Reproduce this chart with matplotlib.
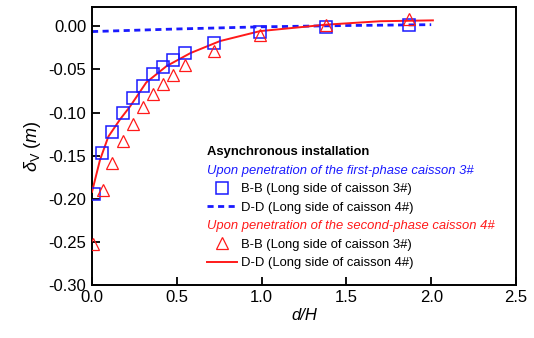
import numpy as np
import matplotlib
matplotlib.use("Agg")
from matplotlib import pyplot as plt
from matplotlib.lines import Line2D

plt.rcParams["font.family"] = ["Liberation Sans", "DejaVu Sans"]
plt.rcParams["mathtext.fontset"] = "custom"
plt.rcParams["mathtext.rm"] = "Liberation Sans"
plt.rcParams["mathtext.it"] = "Liberation Sans:italic"

BLUE = "#1a1aff"
RED = "#ff1a1a"

# first-phase caisson 3#, section B-B (squares)
bb1_x = [0.014, 0.057, 0.12, 0.18, 0.24, 0.30, 0.36, 0.42, 0.48, 0.55, 0.72, 0.99, 1.38, 1.87]
bb1_y = [-0.194, -0.147, -0.123, -0.101, -0.083, -0.069, -0.055, -0.047, -0.039, -0.031,
         -0.019, -0.007, -0.001, 0.002]

# first-phase, section D-D (dashed)
dd1_x = [0.0, 0.5, 1.0, 1.5, 2.0]
dd1_y = [-0.006, -0.003, -0.0005, 0.001, 0.002]

# second-phase caisson 4#, section B-B (triangles)
bb2_x = [0.008, 0.063, 0.12, 0.18, 0.24, 0.30, 0.36, 0.42, 0.48, 0.55, 0.72, 0.99, 1.38, 1.87]
bb2_y = [-0.253, -0.190, -0.159, -0.133, -0.113, -0.093, -0.079, -0.067, -0.056, -0.045,
         -0.029, -0.010, 0.002, 0.009]

# second-phase, section D-D (solid)
dd2_x = [0.0, 0.047, 0.096, 0.165, 0.224, 0.32, 0.44, 0.58, 0.755, 0.99, 1.38, 1.70, 2.01]
dd2_y = [-0.192, -0.155, -0.128, -0.108, -0.093, -0.065, -0.046, -0.031, -0.017, -0.0055,
         0.002, 0.006, 0.007]

x_ticks = [0.0, 0.5, 1.0, 1.5, 2.0, 2.5]
y_ticks = [-0.30, -0.25, -0.20, -0.15, -0.10, -0.05, 0.00]

fig = plt.figure(figsize=(5.34, 3.38), dpi=100)
ax = fig.add_axes([0.1723, 0.157, 0.7940, 0.821])

ax.plot(dd1_x, dd1_y, color=BLUE, linestyle=(0, (2.2, 1.6)), linewidth=2.0, zorder=2)
ax.plot(dd2_x, dd2_y, color=RED, linewidth=1.4, zorder=3)
ax.plot(bb1_x, bb1_y, linestyle="none", marker="s", markersize=8.5, markerfacecolor="none",
        markeredgecolor=BLUE, markeredgewidth=1.1, zorder=4)
ax.plot(bb2_x, bb2_y, linestyle="none", marker="^", markersize=8, markerfacecolor="none",
        markeredgecolor=RED, markeredgewidth=0.9, zorder=4)

ax.set_xlim(0, 2.5)
ax.set_ylim(-0.30, 0.022)
ax.set_xticks(x_ticks, [f"{v:.1f}" for v in x_ticks])
ax.set_yticks(y_ticks, [f"{v:.2f}" for v in y_ticks])
ax.tick_params(direction="in", length=6, width=1.3, labelsize=12, pad=4)
for s in ax.spines.values():
    s.set_linewidth(1.4)

ax.set_xlabel("d/H", fontsize=12, style="italic", labelpad=2)
ax.set_ylabel(r"$\delta_\mathregular{V}$ $\mathit{(m)}$", fontsize=13, labelpad=4)

blank = Line2D([], [], linestyle="none")
handles = [
    blank,
    blank,
    Line2D([], [], linestyle="none", marker="s", markersize=8.5, markerfacecolor="none",
           markeredgecolor=BLUE, markeredgewidth=1.1),
    Line2D([], [], color=BLUE, linestyle=(0, (2.2, 1.6)), linewidth=2.0),
    blank,
    Line2D([], [], linestyle="none", marker="^", markersize=8, markerfacecolor="none",
           markeredgecolor=RED, markeredgewidth=0.9),
    Line2D([], [], color=RED, linewidth=1.4),
]
labels = [
    "Asynchronous installation",
    "Upon penetration of the first-phase caisson 3#",
    "B-B (Long side of caisson 3#)",
    "D-D (Long side of caisson 4#)",
    "Upon penetration of the second-phase caisson 4#",
    "B-B (Long side of caisson 3#)",
    "D-D (Long side of caisson 4#)",
]
leg = ax.legend(handles, labels, loc="upper left", bbox_to_anchor=(0.271, 0.5),
                frameon=False, fontsize=9.4, handlelength=2.3, handletextpad=0.3,
                labelspacing=0.49, borderpad=0, borderaxespad=0)

# header rows: no handle, text starts at the handle column
rows = leg._legend_handle_box.get_children()[0].get_children()
texts = leg.get_texts()
for i in (0, 1, 4):
    rows[i]._children = rows[i]._children[1:]
texts[0].set_fontweight("bold")
texts[1].set_color(BLUE)
texts[1].set_fontstyle("italic")
texts[4].set_color(RED)
texts[4].set_fontstyle("italic")

fig.savefig("out.png", dpi=100)
